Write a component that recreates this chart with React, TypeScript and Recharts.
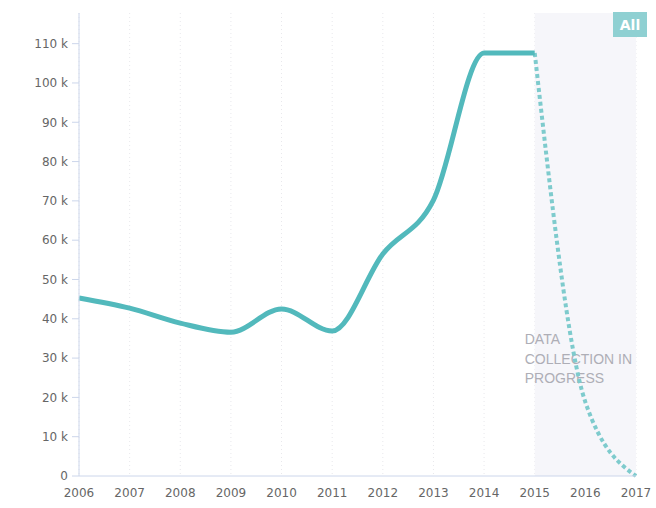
import React from "react";
import {
  LineChart,
  Line,
  XAxis,
  YAxis,
  CartesianGrid,
  ReferenceArea,
} from "recharts";

const years = [2006, 2007, 2008, 2009, 2010, 2011, 2012, 2013, 2014, 2015, 2016, 2017];
const actualValues: (number | null)[] = [45300, 42700, 38900, 36600, 42500, 36900, 56500, 70200, 107600, 107600, null, null];
const projectedValues: (number | null)[] = [null, null, null, null, null, null, null, null, null, 107600, 18800, 0];
const yTicks = [0, 10000, 20000, 30000, 40000, 50000, 60000, 70000, 80000, 90000, 100000, 110000];
const bandLabelLines = ["DATA", "COLLECTION IN", "PROGRESS"];

const data = years.map((year, i) => ({
  year,
  actual: actualValues[i],
  projected: projectedValues[i],
}));

const fontFamily = "'DejaVu Sans', Verdana, sans-serif";

const BandLabel = (props: any) => {
  const vb = props.viewBox || {};
  const x = (vb.x ?? 0) - 10;
  const y0 = 344;
  return (
    <text fontFamily="'Liberation Sans', Arial, sans-serif" fontSize={14} fill="#aeaeb6">
      {bandLabelLines.map((line, i) => (
        <tspan key={line} x={x} y={y0 + i * 19.5}>
          {line}
        </tspan>
      ))}
    </text>
  );
};

export default function App() {
  return (
    <div style={{ position: "absolute", left: 0, top: 0, width: 656, height: 508, background: "#fff" }}>
      <LineChart
        width={656}
        height={508}
        data={data}
        margin={{ top: 13, right: 20, bottom: 0, left: 0 }}
      >
        <ReferenceArea
          x1={2015}
          x2={2017}
          y1={0}
          y2={117800}
          fill="#f6f6fa"
          fillOpacity={1}
          stroke="none"
          ifOverflow="extendDomain"
          label={<BandLabel />}
        />
        <CartesianGrid
          vertical={true}
          horizontal={false}
          stroke="#e8e8ec"
          strokeDasharray="1 3"
        />
        <XAxis
          dataKey="year"
          type="number"
          domain={[2006, 2017]}
          ticks={years}
          interval={0}
          height={32}
          axisLine={{ stroke: "#ccd6eb" }}
          tickLine={false}
          tick={{ fill: "#666", fontSize: 12, fontFamily }}
          tickMargin={6}
        />
        <YAxis
          type="number"
          domain={[0, 117800]}
          ticks={yTicks}
          interval={0}
          width={79}
          axisLine={{ stroke: "#ccd6eb" }}
          tickLine={{ stroke: "#ccd6eb" }}
          tickSize={7}
          tickMargin={4}
          tick={{ fill: "#666", fontSize: 12, fontFamily }}
          tickFormatter={(v: number) => (v === 0 ? "0" : `${v / 1000} k`)}
        />
        <Line
          type="monotone"
          dataKey="projected"
          stroke="#7ecbcd"
          strokeWidth={4}
          strokeDasharray="4 3"
          dot={false}
          activeDot={false}
          connectNulls={false}
          isAnimationActive={false}
        />
        <Line
          type="monotone"
          dataKey="actual"
          stroke="#52b9bc"
          strokeWidth={5}
          dot={false}
          activeDot={false}
          connectNulls={false}
          isAnimationActive={false}
        />
      </LineChart>
      <div
        style={{
          position: "absolute",
          left: 613,
          top: 12,
          width: 34,
          height: 25,
          background: "#8fd0d2",
          color: "#fff",
          fontFamily,
          fontSize: 14,
          fontWeight: 600,
          display: "flex",
          alignItems: "center",
          justifyContent: "center",
        }}
      >
        All
      </div>
    </div>
  );
}
